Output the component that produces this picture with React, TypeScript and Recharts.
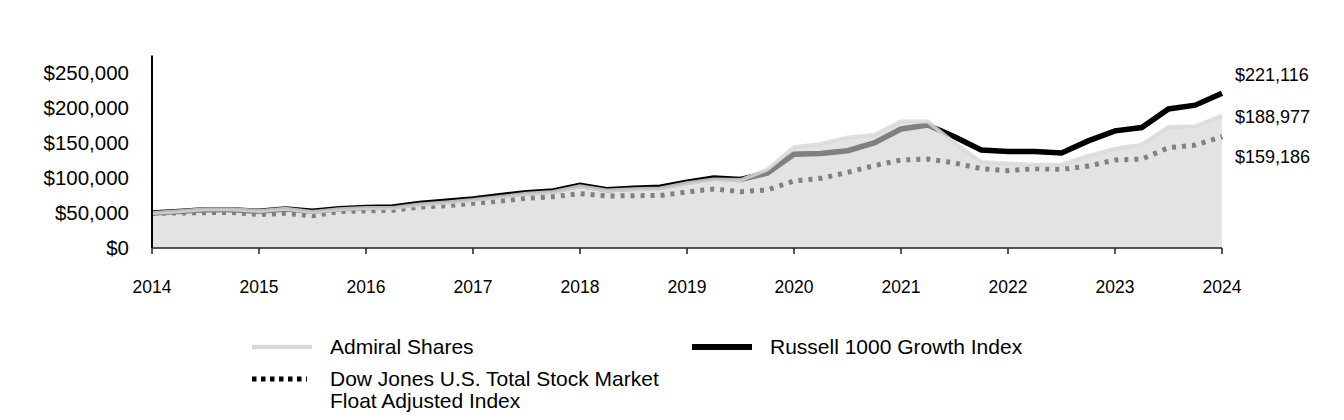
import { ComposedChart, Line, Area, XAxis, YAxis, LabelList } from 'recharts'

const quarters = [
  2014, 2014.25, 2014.5, 2014.75, 2015, 2015.25, 2015.5, 2015.75, 2016, 2016.25, 2016.5,
  2016.75, 2017, 2017.25, 2017.5, 2017.75, 2018, 2018.25, 2018.5, 2018.75, 2019, 2019.25,
  2019.5, 2019.75, 2020, 2020.25, 2020.5, 2020.75, 2021, 2021.25, 2021.5, 2021.75, 2022,
  2022.25, 2022.5, 2022.75, 2023, 2023.25, 2023.5, 2023.75, 2024,
]

const admiralShares = [
  50000, 52500, 55500, 55500, 53000, 56000, 51500, 55500, 57000, 57000, 62000,
  65000, 68500, 73000, 77500, 80000, 88000, 82000, 84000, 85000, 92500, 98000,
  97000, 112000, 144000, 148600, 158000, 161400, 180700, 180700, 150000, 122800, 120700,
  119000, 119000, 131400, 141900, 147600, 172900, 173900, 188977,
]

const russell1000Growth = [
  50000, 52000, 54700, 54500, 52400, 55700, 52400, 56000, 58000, 58600, 63500,
  66700, 70000, 74700, 79000, 81400, 89500, 83300, 85300, 86700, 94000, 100000,
  98000, 107000, 134000, 135000, 139000, 150000, 170000, 175700, 159000, 140000, 137900,
  137900, 135700, 153000, 167400, 172000, 198600, 204000, 221116,
]

const dowJonesTotal = [
  49500, 50000, 50500, 50800, 48000, 49500, 46000, 51900, 52900, 53800, 58500,
  60400, 63800, 67000, 71000, 73300, 77600, 74300, 74700, 75000, 80000, 84300,
  80500, 82900, 95700, 99500, 108000, 117600, 125700, 127000, 121500, 113300, 110500,
  113300, 112400, 117000, 125700, 127000, 143300, 147000, 159186,
]

const yearTicks = [2014, 2015, 2016, 2017, 2018, 2019, 2020, 2021, 2022, 2023, 2024]
const dollarTicks = [0, 50000, 100000, 150000, 200000, 250000]

const data = quarters.map((q, i) => ({
  q,
  admiral: admiralShares[i],
  russell: russell1000Growth[i],
  dow: dowJonesTotal[i],
}))

const FONT = '"Liberation Sans", Arial, sans-serif'
const fmt = (v: number) => '$' + v.toLocaleString('en-US')
const W = 1336
const H = 412
const X_DOMAIN = [2014, 2024]
const Y_DOMAIN = [0, 275000]

// only the last point gets a label, nudged up/down so they don't collide
const endLabel = (shift: number) => (props: any) => {
  const { x, y, index, value } = props
  if (index !== data.length - 1) return null
  return (
    <text x={x + 13} y={y + shift} dominantBaseline="central" fontSize={18} fill="#000" fontFamily={FONT}>
      {fmt(value)}
    </text>
  )
}

const LegendRow = ({ left, top, swatch, lines }: { left: number; top: number; swatch: any; lines: string[] }) => (
  <div style={{ position: 'absolute', left, top, display: 'flex', alignItems: 'flex-start' }}>
    <svg width={78} height={22} style={{ flexShrink: 0 }}>
      {swatch}
    </svg>
    <div style={{ fontSize: 21, lineHeight: '22px', color: '#000', fontFamily: FONT }}>
      {lines.map((l) => (
        <div key={l}>{l}</div>
      ))}
    </div>
  </div>
)

export default function App() {
  return (
    <div style={{ position: 'relative', width: W, height: H, fontFamily: FONT }}>
      {/* bottom layer: the two index lines, seen through the translucent fund area */}
      <div style={{ position: 'absolute', left: 0, top: 0 }}>
        <ComposedChart width={W} height={H} data={data} margin={{ top: 47.5, right: 122, left: 144, bottom: 172 }}>
          <XAxis dataKey="q" type="number" domain={X_DOMAIN} hide />
          <YAxis type="number" domain={Y_DOMAIN} hide />
          <Line dataKey="russell" type="linear" stroke="#000" strokeWidth={5.5} dot={false} isAnimationActive={false}>
            <LabelList dataKey="russell" content={endLabel(-18)} />
          </Line>
          <Line
            dataKey="dow"
            type="linear"
            stroke="#000"
            strokeWidth={5}
            strokeDasharray="4 6"
            dot={false}
            isAnimationActive={false}
          >
            <LabelList dataKey="dow" content={endLabel(20)} />
          </Line>
        </ComposedChart>
      </div>

      {/* top layer: fund area + axes */}
      <div style={{ position: 'absolute', left: 0, top: 0 }}>
        <ComposedChart width={W} height={H} data={data} margin={{ top: 47.5, right: 122, left: 0, bottom: 112 }}>
          <XAxis
            dataKey="q"
            type="number"
            domain={X_DOMAIN}
            ticks={yearTicks}
            height={60}
            tick={{ fontSize: 17.5, fill: '#000', fontFamily: FONT }}
            tickSize={6}
            tickMargin={27}
            axisLine={{ stroke: '#222', strokeWidth: 1.5 }}
            tickLine={{ stroke: '#222', strokeWidth: 1.5 }}
          />
          <YAxis
            type="number"
            domain={Y_DOMAIN}
            ticks={dollarTicks}
            width={144}
            tickFormatter={fmt}
            tick={{ fontSize: 20.5, fill: '#000', fontFamily: FONT }}
            tickSize={0}
            tickMargin={23}
            axisLine={{ stroke: '#000', strokeWidth: 2 }}
            tickLine={false}
          />
          <Area
            dataKey="admiral"
            type="linear"
            fill="#d1d1d1"
            fillOpacity={0.61}
            stroke="#d9d9d9"
            strokeOpacity={0.85}
            strokeWidth={4}
            dot={false}
            activeDot={false}
            isAnimationActive={false}
          >
            <LabelList dataKey="admiral" content={endLabel(1)} />
          </Area>
        </ComposedChart>
      </div>

      <LegendRow
        left={244}
        top={328}
        lines={['Admiral Shares']}
        swatch={<line x1={0} y1={11} x2={60} y2={11} stroke="#d9d9d9" strokeWidth={4.5} />}
      />
      <LegendRow
        left={684}
        top={328}
        lines={['Russell 1000 Growth Index']}
        swatch={<line x1={0} y1={11} x2={60} y2={11} stroke="#000" strokeWidth={6} />}
      />
      <LegendRow
        left={244}
        top={360}
        lines={['Dow Jones U.S. Total Stock Market', 'Float Adjusted Index']}
        swatch={<line x1={0} y1={11} x2={55} y2={11} stroke="#000" strokeWidth={5} strokeDasharray="4.5 4.5" />}
      />
    </div>
  )
}
